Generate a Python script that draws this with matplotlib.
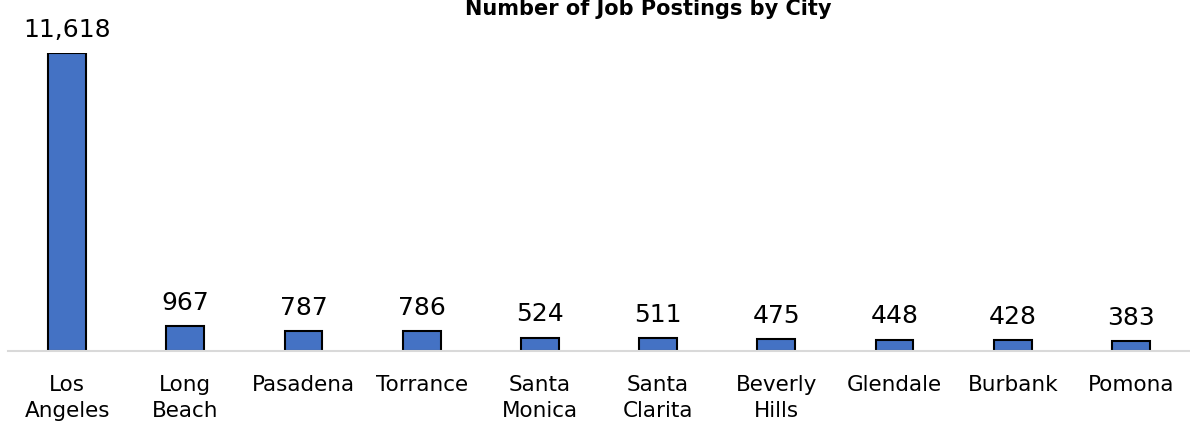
import numpy as np
import matplotlib.pyplot as plt

cities = ['Los\nAngeles', 'Long\nBeach', 'Pasadena', 'Torrance', 'Santa\nMonica',
          'Santa\nClarita', 'Beverly\nHills', 'Glendale', 'Burbank', 'Pomona']
postings = [11618, 967, 787, 786, 524, 511, 475, 448, 428, 383]

plt.rcParams['font.family'] = ['DejaVu Sans']

fig = plt.figure(figsize=(11.9, 4.28), dpi=100)
ax = fig.add_axes([8 / 1190, 77 / 428, 1182 / 1190, (351 - 53) / 428])

index = np.arange(len(cities))
bars = ax.bar(index, postings, 0.32, color='#4472C4', edgecolor='black', linewidth=1.5)

for rect, val in zip(bars, postings):
    ax.annotate('{:,}'.format(val), (rect.get_x() + rect.get_width() / 2, val),
                xytext=(0, 8), textcoords='offset points', ha='center', va='bottom',
                fontsize=18, color='black')

ax.set_xlim(-0.5, len(cities) - 0.5)
ax.set_ylim(0, max(postings))
ax.set_xticks(index)
ax.set_xticklabels(cities, fontsize=15.5, linespacing=1.4, va='top')
ax.tick_params(axis='x', length=0, pad=17)
ax.set_yticks([])
for side in ['top', 'right', 'left']:
    ax.spines[side].set_visible(False)
ax.spines['bottom'].set_color('#d9d9d9')
ax.spines['bottom'].set_linewidth(1.5)

fig.text(648 / 1190, 1 - 9 / 428, 'Number of Job Postings by City', ha='center', va='center',
         fontsize=15, fontweight='bold')

fig.savefig('out.png', dpi=100)
